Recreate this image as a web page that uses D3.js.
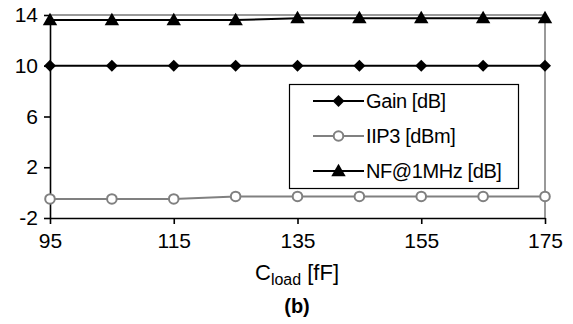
<!DOCTYPE html>
<html><head><meta charset="utf-8">
<script src="https://cdn.jsdelivr.net/npm/d3@7"></script>
<style>body{margin:0;background:#fff}svg{display:block}text{font-family:"Liberation Sans",Arial,sans-serif}</style>
</head><body>
<svg id="c" width="573" height="324"></svg>
<script>
const cload = [95,105,115,125,135,145,155,165,175];
const gain = [10,10,10,10,10,10,10,10,10];
const iip3 = [-0.5,-0.5,-0.5,-0.3,-0.3,-0.3,-0.3,-0.3,-0.3];
const nf = [13.6,13.6,13.6,13.6,13.75,13.75,13.75,13.75,13.75];
const xTicks = [95,115,135,155,175];
const yTicks = [-2,2,6,10,14];
const seriesNames = ["Gain [dB]","IIP3 [dBm]","NF@1MHz [dB]"];

const svg = d3.select("#c");
const x = d3.scaleLinear().domain([95,175]).range([50,545]);
const y = d3.scaleLinear().domain([-2,14]).range([218,15]);

// gray frame top/right
svg.append("line").attr("x1",x(95)).attr("x2",x(175)).attr("y1",y(14)).attr("y2",y(14)).attr("stroke","#999").attr("stroke-width",2);
svg.append("line").attr("x1",x(175)).attr("x2",x(175)).attr("y1",y(14)).attr("y2",y(-2)).attr("stroke","#999").attr("stroke-width",2);

const fmt = d => String(d);
const xa = svg.append("g").attr("transform",`translate(0,${y(-2)})`)
  .call(d3.axisBottom(x).tickValues(xTicks).tickFormat(fmt).tickSize(6).tickPadding(9).tickSizeOuter(0));
const ya = svg.append("g").attr("transform",`translate(${x(95)},0)`)
  .call(d3.axisLeft(y).tickValues(yTicks).tickFormat(fmt).tickSize(6).tickPadding(6).tickSizeOuter(0));
[xa,ya].forEach(a=>{
  a.selectAll("path,line").attr("stroke","#000").attr("stroke-width",1.6);
  a.selectAll("text").attr("font-size",21).attr("fill","#000").attr("font-family","Liberation Sans, Arial, sans-serif");
});

const line = d3.line().x((d,i)=>x(cload[i])).y(d=>y(d));
const square = d3.symbol().type(d3.symbolSquare).size(72);
const tri = d3.symbol().type(d3.symbolTriangle).size(90);

function drawSeries(vals,color,markerFn){
  svg.append("path").datum(vals).attr("d",line).attr("fill","none").attr("stroke",color).attr("stroke-width",2);
  vals.forEach((v,i)=>markerFn(svg,x(cload[i]),y(v)));
}
const mDiamond=(g,cx,cy)=>g.append("path").attr("d",square()).attr("transform",`translate(${cx},${cy}) rotate(45)`).attr("fill","#000");
const mCircle=(g,cx,cy)=>g.append("circle").attr("cx",cx).attr("cy",cy).attr("r",4.8).attr("fill","#fff").attr("stroke","#808080").attr("stroke-width",2);
const mTri=(g,cx,cy)=>g.append("path").attr("d",tri()).attr("transform",`translate(${cx},${cy+1})`).attr("fill","#000");

drawSeries(gain,"#000",mDiamond);
drawSeries(iip3,"#808080",mCircle);
drawSeries(nf,"#000",mTri);

// legend
const lg = svg.append("g");
lg.append("rect").attr("x",289.5).attr("y",84.5).attr("width",229).attr("height",104).attr("fill","#fff").attr("stroke","#000").attr("stroke-width",1.2);
const rows=[{c:"#000",m:mDiamond},{c:"#808080",m:mCircle},{c:"#000",m:mTri}];
rows.forEach((r,i)=>{
  const yy=101+i*35;
  lg.append("line").attr("x1",313).attr("x2",364).attr("y1",yy).attr("y2",yy).attr("stroke",r.c).attr("stroke-width",2);
  r.m(lg,338.5,yy);
  lg.append("text").attr("x",366).attr("y",yy+7).attr("font-size",20).attr("letter-spacing",-0.4).text(seriesNames[i]);
});

// axis title
const t = svg.append("text").attr("x",297).attr("y",280).attr("text-anchor","middle").attr("font-size",22);
t.append("tspan").text("C");
t.append("tspan").attr("font-size",16).attr("dy",5).text("load");
t.append("tspan").attr("dy",-5).text(" [fF]");
svg.append("text").attr("x",297).attr("y",313).attr("text-anchor","middle").attr("font-size",20).attr("font-weight","bold").text("(b)");
</script>
</body></html>
